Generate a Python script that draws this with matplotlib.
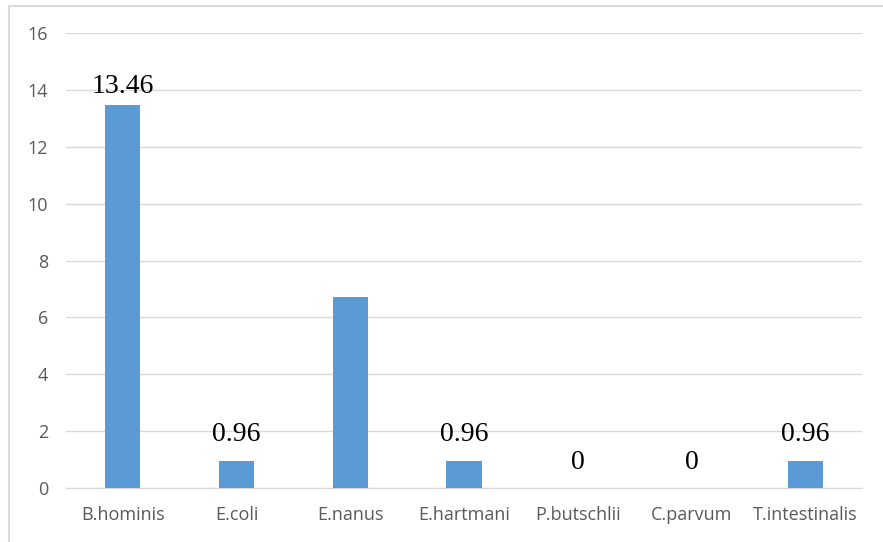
import matplotlib.pyplot as plt
from matplotlib.patches import Rectangle

categories = ['B.hominis', 'E.coli', 'E.nanus', 'E.hartmani', 'P.butschlii', 'C.parvum', 'T.intestinalis']
values = [13.46, 0.96, 6.73, 0.96, 0, 0, 0.96]
labels = ['13.46', '0.96', '', '0.96', '0', '0', '0.96']  # E.nanus has no label in the original

fig = plt.figure(figsize=(8.83, 5.42), dpi=100)
ax = fig.add_axes([66 / 883, 1 - 488 / 542, 796 / 883, 455 / 542])

# light frame around the chart area
fig.patches.append(Rectangle((9 / 883, -0.01), 1.0, 1 - 6 / 542 + 0.01,
                             transform=fig.transFigure, fill=False,
                             edgecolor='#d9d9d9', linewidth=1.5))

x = range(len(categories))
ax.bar(x, values, width=0.31, color='#5b9bd5', zorder=3)

for i, (v, lab) in enumerate(zip(values, labels)):
    if lab:
        off = 9 if v > 10 else 14
        ax.annotate(lab, (i, v), xytext=(0, off), textcoords='offset points',
                    ha='center', va='baseline', fontsize=20,
                    family='Liberation Serif', color='black')

ax.set_xlim(-0.5, len(categories) - 0.5)
ax.set_ylim(0, 16)
ax.set_yticks(range(0, 17, 2))
ax.set_xticks(list(x))
ax.set_xticklabels(categories)
ax.yaxis.grid(True, color='#d9d9d9', linewidth=1, zorder=0)
for s in ['top', 'right', 'left']:
    ax.spines[s].set_visible(False)
ax.spines['bottom'].set_color('#d9d9d9')
ax.tick_params(axis='both', length=0, labelsize=13, labelcolor='#595959')
ax.tick_params(axis='y', pad=13)
ax.tick_params(axis='x', pad=13)
for t in ax.get_xticklabels() + ax.get_yticklabels():
    t.set_family('Open Sans')

fig.savefig('out.png', dpi=100)
